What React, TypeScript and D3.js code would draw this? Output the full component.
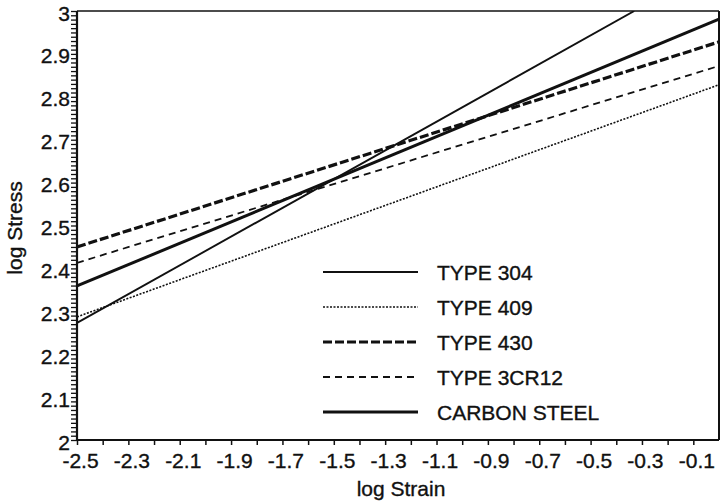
import React, { useEffect, useRef } from 'react';
import * as d3 from 'd3';

// series: each line is a straight fit in log-log space
const seriesNames = ['TYPE 304', 'TYPE 409', 'TYPE 430', 'TYPE 3CR12', 'CARBON STEEL'];
const strainStart = [-2.5, -2.5, -2.5, -2.5, -2.5];
const stressStart = [2.273, 2.287, 2.45, 2.413, 2.359];
const strainEnd = [-0.33, 0, 0, 0, 0];
const stressEnd = [3.0, 2.828, 2.928, 2.872, 2.981];

// axis ticks
const xTickValues = d3.range(25).map(i => -2.5 + i / 10);
const xTickLabels = xTickValues.map((v, i) => (i % 2 === 0 ? v.toFixed(1) : ''));
const yTickValues = d3.range(101).map(i => 2 + i / 100);
const yTickLabels = yTickValues.map((v, i) => (i % 10 === 0 ? String(Math.round(v * 10) / 10) : ''));

// line styles per series
const strokeWidths = [1.9, 1.6, 3.2, 1.8, 3];
const dashes = ['none', '2,1.5', '9,3', '7,5', 'none'];

const FONT = '"Liberation Sans", Arial, sans-serif';
const INK = '#111';

const App: React.FC = () => {
  const svgRef = useRef<SVGSVGElement | null>(null);

  useEffect(() => {
    const svg = d3.select(svgRef.current);
    svg.selectAll('*').remove();

    const left = 77, right = 719, top = 11, bottom = 440;

    const x = d3.scaleLinear().domain([-2.5, 0]).range([left, right]);
    const y = d3.scaleLinear().domain([2, 3]).range([bottom, top]);

    const g = svg.append('g').attr('font-family', FONT).attr('fill', INK);

    // scanned text looks a bit heavier than plain Liberation Sans
    const inkText = (sel: d3.Selection<any, any, any, any>) =>
      sel
        .attr('font-family', FONT)
        .attr('font-size', 21)
        .attr('fill', INK)
        .attr('stroke', INK)
        .attr('stroke-width', 0.35);

    // x axis
    const xAxis = g
      .append('g')
      .attr('transform', `translate(0,${bottom})`)
      .call(
        d3
          .axisBottom(x)
          .tickValues(xTickValues)
          .tickSize(5)
          .tickSizeOuter(0)
          .tickFormat((_, i) => xTickLabels[i])
      );
    xAxis.select('.domain').remove();
    xAxis.selectAll('line').attr('stroke', INK).attr('stroke-width', 1.5);
    inkText(xAxis.selectAll('text'))
      .attr('x', 3)
      .attr('y', 28)
      .attr('dy', 0);

    // y axis
    const yAxis = g
      .append('g')
      .attr('transform', `translate(${left},0)`)
      .call(
        d3
          .axisLeft(y)
          .tickValues(yTickValues)
          .tickSize(6)
          .tickSizeOuter(0)
          .tickFormat((_, i) => yTickLabels[i])
      );
    yAxis.select('.domain').remove();
    yAxis.selectAll('line').attr('stroke', INK).attr('stroke-width', 1.3);
    inkText(yAxis.selectAll('text'))
      .attr('x', -7)
      .attr('y', 9)
      .attr('dy', 0);

    // clip so lines stop at the frame
    svg
      .append('clipPath')
      .attr('id', 'plotClip')
      .append('rect')
      .attr('x', left)
      .attr('y', top)
      .attr('width', right - left)
      .attr('height', bottom - top);

    const line = d3
      .line<[number, number]>()
      .x(d => x(d[0]))
      .y(d => y(d[1]));

    seriesNames.forEach((_, i) => {
      g.append('path')
        .datum([
          [strainStart[i], stressStart[i]],
          [strainEnd[i], stressEnd[i]],
        ] as [number, number][])
        .attr('clip-path', 'url(#plotClip)')
        .attr('fill', 'none')
        .attr('stroke', INK)
        .attr('stroke-width', strokeWidths[i])
        .attr('stroke-dasharray', dashes[i])
        .attr('d', line);
    });

    // frame
    g.append('line').attr('x1', left).attr('x2', right).attr('y1', top).attr('y2', top)
      .attr('stroke', INK).attr('stroke-width', 1.6);
    g.append('line').attr('x1', right).attr('x2', right).attr('y1', top).attr('y2', bottom)
      .attr('stroke', INK).attr('stroke-width', 2);
    g.append('line').attr('x1', left).attr('x2', left).attr('y1', top).attr('y2', bottom + 1)
      .attr('stroke', INK).attr('stroke-width', 2.2);
    g.append('line').attr('x1', left - 1).attr('x2', right).attr('y1', bottom).attr('y2', bottom)
      .attr('stroke', INK).attr('stroke-width', 2.2);

    // axis titles
    inkText(g.append('text'))
      .attr('x', 401)
      .attr('y', 496)
      .attr('text-anchor', 'middle')
      .text('log Strain');
    inkText(g.append('text'))
      .attr('transform', 'translate(22,228) rotate(-90)')
      .attr('text-anchor', 'middle')
      .text('log Stress');

    // legend
    const legendY = d3.scalePoint<string>().domain(seriesNames).range([272, 412]);
    const legend = g.append('g');
    seriesNames.forEach((name, i) => {
      const ly = legendY(name) as number;
      legend
        .append('line')
        .attr('x1', 323)
        .attr('x2', 418)
        .attr('y1', ly)
        .attr('y2', ly)
        .attr('stroke', INK)
        .attr('stroke-width', strokeWidths[i])
        .attr('stroke-dasharray', dashes[i]);
      inkText(legend.append('text'))
        .attr('x', 437)
        .attr('y', ly + 7.5)
        .text(name);
    });
  }, []);

  return (
    <svg
      ref={svgRef}
      width={722}
      height={504}
      style={{ position: 'absolute', left: 0, top: 0, display: 'block', background: '#fff' }}
    />
  );
};

export default App;
